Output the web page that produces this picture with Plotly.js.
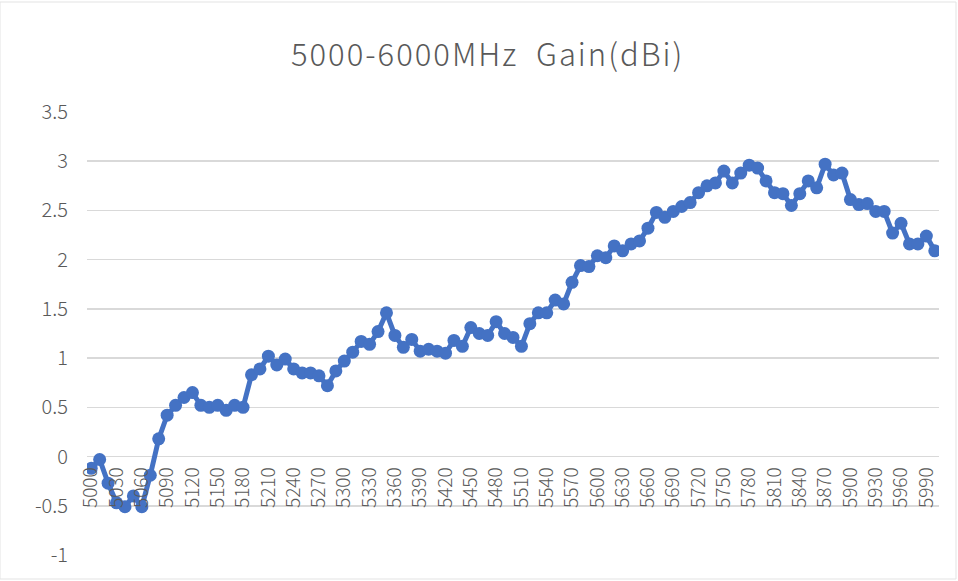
<!DOCTYPE html>
<html>
<head>
<meta charset="utf-8">
<script src="https://cdn.plot.ly/plotly-3.0.1.min.js"></script>
<style>
html,body{margin:0;padding:0;background:#fff;}
#chart{width:958px;height:581px;}
#chart .gtitle{letter-spacing:2px;}
</style>
</head>
<body>
<div id="chart"></div>
<script>
// Frequency (MHz) categories
const freqMHz = [];
for (let f = 5000; f <= 6000; f += 10) freqMHz.push(f);

// Gain (dBi)
const gainDBi = [
  -0.12, -0.03, -0.27, -0.47, -0.51, -0.40, -0.51, -0.19, 0.18, 0.42,
  0.52, 0.60, 0.65, 0.52, 0.50, 0.52, 0.47, 0.52, 0.50, 0.83,
  0.89, 1.02, 0.93, 0.99, 0.89, 0.85, 0.85, 0.82, 0.72, 0.87,
  0.97, 1.06, 1.17, 1.14, 1.27, 1.46, 1.23, 1.11, 1.19, 1.07,
  1.09, 1.07, 1.05, 1.18, 1.12, 1.31, 1.25, 1.23, 1.37, 1.25,
  1.21, 1.12, 1.35, 1.46, 1.46, 1.59, 1.55, 1.77, 1.94, 1.93,
  2.04, 2.02, 2.14, 2.09, 2.16, 2.19, 2.32, 2.48, 2.43, 2.49,
  2.54, 2.58, 2.68, 2.75, 2.78, 2.90, 2.78, 2.88, 2.96, 2.93,
  2.80, 2.68, 2.67, 2.55, 2.67, 2.80, 2.73, 2.97, 2.86, 2.88,
  2.61, 2.56, 2.57, 2.49, 2.49, 2.27, 2.37, 2.16, 2.16, 2.24,
  2.09
];

// Tick labels
const xTickVals = [];
for (let f = 5000; f <= 6000; f += 30) xTickVals.push(f);
const xTickText = xTickVals.map(String);
const yTickVals = [-1, -0.5, 0, 0.5, 1, 1.5, 2, 2.5, 3, 3.5];
const yTickText = ["-1", "-0.5", "0", "0.5", "1", "1.5", "2", "2.5", "3", "3.5"];
const chartTitle = "5000-6000MHz  Gain(dBi)";

const FONT = "'Noto Sans CJK SC', 'Noto Sans', sans-serif";
const GREY = "#595959";

const trace = {
  x: freqMHz,
  y: gainDBi,
  type: "scatter",
  mode: "lines+markers",
  line: {color: "#4472C4", width: 5},
  marker: {color: "#4472C4", size: 13, symbol: "circle"},
  hoverinfo: "x+y"
};

const yMin = -1, yMax = 3.5;
const layout = {
  width: 958,
  height: 581,
  paper_bgcolor: "#ffffff",
  plot_bgcolor: "#ffffff",
  margin: {l: 87, r: 19, t: 112, b: 26, pad: 0},
  showlegend: false,
  title: {
    text: chartTitle,
    font: {family: FONT, size: 31, color: GREY, weight: 300},
    x: 0.509, xref: "container", xanchor: "center",
    y: 1 - 55 / 581, yref: "container", yanchor: "middle"
  },
  xaxis: {
    type: "linear",
    range: [4995, 6005],
    tickmode: "array",
    tickvals: xTickVals,
    ticktext: xTickText,
    tickangle: -90,
    tickfont: {family: FONT, size: 19, color: GREY, weight: 300},
    showgrid: false,
    zeroline: false,
    showline: false,
    ticks: "",
    anchor: "free",
    position: (0 - yMin) / (yMax - yMin),
    ticklabelstandoff: 6
  },
  yaxis: {
    range: [yMin, yMax],
    tickmode: "array",
    tickvals: yTickVals,
    ticktext: yTickText,
    tickfont: {family: FONT, size: 20, color: GREY, weight: 300},
    showgrid: true,
    gridcolor: "#D9D9D9",
    gridwidth: 1.5,
    zeroline: false,
    showline: false,
    ticks: "",
    ticklabelstandoff: 18
  },
  shapes: [{
    type: "rect", xref: "paper", yref: "paper",
    x0: -87 / 852, x1: 1 + 17 / 852, y0: -24 / 443, y1: 1 + 110 / 443,
    line: {color: "#E3E3E3", width: 1}
  }]
};

Plotly.newPlot("chart", [trace], layout, {displayModeBar: false, staticPlot: true});
</script>
</body>
</html>
